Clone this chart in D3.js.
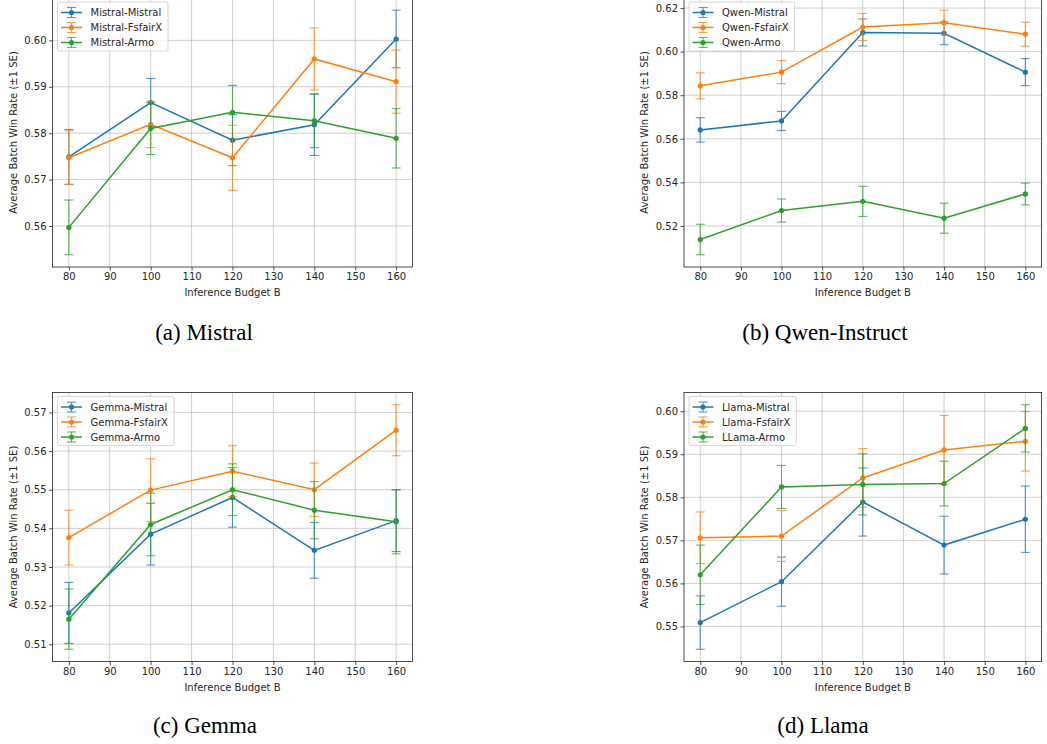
<!DOCTYPE html>
<html>
<head>
<meta charset="utf-8">
<script src="https://cdn.jsdelivr.net/npm/d3@7"></script>
<style>
  html, body { margin: 0; padding: 0; background: #fff; }
  svg text { font-family: "DejaVu Sans", sans-serif; }
  .caption { font-family: "Liberation Serif", "Times New Roman", serif !important; }
</style>
</head>
<body>
<svg id="fig" width="1047" height="744"></svg>
<script>
// --- data ---
var budgets = [80, 100, 120, 140, 160]
var xTicks = [80, 90, 100, 110, 120, 130, 140, 150, 160]
var colors = ["#1f77b4", "#ff7f0e", "#2ca02c"]

// (a) Mistral
var aNames = ["Mistral-Mistral", "Mistral-FsfairX", "Mistral-Armo"]
var aMistral = [0.5749, 0.5866, 0.5785, 0.5818, 0.6003]
var aMistralSE = [0.0059, 0.0052, 0.0055, 0.0066, 0.0062]
var aFsfair = [0.5747, 0.5819, 0.5747, 0.5960, 0.5911]
var aFsfairSE = [0.0058, 0.0050, 0.0070, 0.0067, 0.0068]
var aArmo = [0.5597, 0.5810, 0.5845, 0.5827, 0.5789]
var aArmoSE = [0.0059, 0.0056, 0.0058, 0.0058, 0.0064]
var aTicks = [0.56, 0.57, 0.58, 0.59, 0.60]

// (b) Qwen-Instruct
var bNames = ["Qwen-Mistral", "Qwen-FsfairX", "Qwen-Armo"]
var bMistral = [0.5641, 0.5682, 0.6088, 0.6084, 0.5906]
var bMistralSE = [0.0056, 0.0044, 0.0062, 0.0052, 0.0062]
var bFsfair = [0.5843, 0.5906, 0.6113, 0.6133, 0.6080]
var bFsfairSE = [0.0060, 0.0053, 0.0062, 0.0057, 0.0055]
var bArmo = [0.5138, 0.5271, 0.5313, 0.5236, 0.5347]
var bArmoSE = [0.0070, 0.0053, 0.0069, 0.0069, 0.0050]
var bTicks = [0.52, 0.54, 0.56, 0.58, 0.60, 0.62]

// (c) Gemma
var cNames = ["Gemma-Mistral", "Gemma-FsfairX", "Gemma-Armo"]
var cMistral = [0.5181, 0.5385, 0.5480, 0.5343, 0.5420]
var cMistralSE = [0.0079, 0.0080, 0.0077, 0.0072, 0.0080]
var cFsfair = [0.5376, 0.5499, 0.5548, 0.5500, 0.5654]
var cFsfairSE = [0.0071, 0.0081, 0.0066, 0.0069, 0.0066]
var cArmo = [0.5165, 0.5410, 0.5500, 0.5447, 0.5417]
var cArmoSE = [0.0078, 0.0081, 0.0067, 0.0074, 0.0083]
var cTicks = [0.51, 0.52, 0.53, 0.54, 0.55, 0.56, 0.57]

// (d) Llama
var dNames = ["Llama-Mistral", "Llama-FsfairX", "LLama-Armo"]
var dMistral = [0.5509, 0.5604, 0.5789, 0.5689, 0.5749]
var dMistralSE = [0.0062, 0.0057, 0.0079, 0.0067, 0.0077]
var dFsfair = [0.5706, 0.5710, 0.5845, 0.5910, 0.5930]
var dFsfairSE = [0.0060, 0.0059, 0.0068, 0.0080, 0.0069]
var dArmo = [0.5620, 0.5824, 0.5830, 0.5832, 0.5960]
var dArmoSE = [0.0069, 0.0050, 0.0071, 0.0052, 0.0055]
var dTicks = [0.55, 0.56, 0.57, 0.58, 0.59, 0.60]

var panels = [
  { names: aNames, means: [aMistral, aFsfair, aArmo], ses: [aMistralSE, aFsfairSE, aArmoSE], ticks: aTicks,
    caption: "(a) Mistral", left: 52.5, top: -2, w: 360, h: 269, capX: 204, capY: 339.5 },
  { names: bNames, means: [bMistral, bFsfair, bArmo], ses: [bMistralSE, bFsfairSE, bArmoSE], ticks: bTicks,
    caption: "(b) Qwen-Instruct", left: 684, top: -2, w: 357.6, h: 269, capX: 825, capY: 339.5 },
  { names: cNames, means: [cMistral, cFsfair, cArmo], ses: [cMistralSE, cFsfairSE, cArmoSE], ticks: cTicks,
    caption: "(c) Gemma", left: 52.5, top: 392.5, w: 360, h: 269, capX: 205, capY: 733.3 },
  { names: dNames, means: [dMistral, dFsfair, dArmo], ses: [dMistralSE, dFsfairSE, dArmoSE], ticks: dTicks,
    caption: "(d) Llama", left: 684, top: 392.5, w: 357.6, h: 269, capX: 823, capY: 733.3 }
]

var svg = d3.select("#fig")
svg.append("rect").attr("width", 1047).attr("height", 744).attr("fill", "#fff")

panels.forEach(function (p) {
  var g = svg.append("g").attr("transform", "translate(" + p.left + "," + p.top + ")")

  // y domain like matplotlib autoscale: data incl. error bars + 5% margin
  var lo = d3.min(p.means, function (m, s) { return d3.min(m, function (v, i) { return v - p.ses[s][i] }) })
  var hi = d3.max(p.means, function (m, s) { return d3.max(m, function (v, i) { return v + p.ses[s][i] }) })
  var pad = (hi - lo) * 0.05

  var x = d3.scaleLinear().domain([76, 164]).range([0, p.w])
  var y = d3.scaleLinear().domain([lo - pad, hi + pad]).range([p.h, 0])

  // grid
  g.append("g").selectAll("line").data(xTicks).enter().append("line")
      .attr("x1", function (d) { return x(d) }).attr("x2", function (d) { return x(d) })
      .attr("y1", 0).attr("y2", p.h)
      .attr("stroke", "#b0b0b0").attr("stroke-opacity", 0.75).attr("stroke-width", 0.8)
  g.append("g").selectAll("line").data(p.ticks).enter().append("line")
      .attr("y1", function (d) { return y(d) }).attr("y2", function (d) { return y(d) })
      .attr("x1", 0).attr("x2", p.w)
      .attr("stroke", "#b0b0b0").attr("stroke-opacity", 0.75).attr("stroke-width", 0.8)

  // axes
  var xAxis = g.append("g").attr("transform", "translate(0," + p.h + ")")
      .call(d3.axisBottom(x).tickValues(xTicks).tickSize(3.5).tickPadding(2.5).tickFormat(d3.format("d")))
  var yAxis = g.append("g")
      .call(d3.axisLeft(y).tickValues(p.ticks).tickSize(3.5).tickPadding(2.5).tickFormat(d3.format(".2f")))
  ;[xAxis, yAxis].forEach(function (a) {
    a.select(".domain").remove()
    a.selectAll(".tick line").attr("stroke", "#222").attr("stroke-width", 0.8)
    a.selectAll(".tick text").attr("fill", "#262626").style("font-size", "10px")
  })

  // series
  var line = d3.line().x(function (d) { return x(d[0]) }).y(function (d) { return y(d[1]) })
  p.means.forEach(function (m, s) {
    var c = colors[s]
    var pts = budgets.map(function (b, i) { return [b, m[i], p.ses[s][i]] })
    var sg = g.append("g")
    var eb = sg.append("g").attr("stroke", c).attr("stroke-opacity", 0.75).attr("stroke-width", 1.1)
    pts.forEach(function (d) {
      eb.append("line").attr("x1", x(d[0])).attr("x2", x(d[0]))
          .attr("y1", y(d[1] - d[2])).attr("y2", y(d[1] + d[2]))
      eb.append("line").attr("x1", x(d[0]) - 4.5).attr("x2", x(d[0]) + 4.5)
          .attr("y1", y(d[1] - d[2])).attr("y2", y(d[1] - d[2]))
      eb.append("line").attr("x1", x(d[0]) - 4.5).attr("x2", x(d[0]) + 4.5)
          .attr("y1", y(d[1] + d[2])).attr("y2", y(d[1] + d[2]))
    })
    sg.append("path").datum(pts).attr("d", line)
        .attr("fill", "none").attr("stroke", c).attr("stroke-width", 1.5)
    sg.selectAll("circle").data(pts).enter().append("circle")
        .attr("cx", function (d) { return x(d[0]) }).attr("cy", function (d) { return y(d[1]) })
        .attr("r", 2.6).attr("fill", c)
  })

  // frame
  g.append("rect").attr("width", p.w).attr("height", p.h)
      .attr("fill", "none").attr("stroke", "#222").attr("stroke-width", 0.8)

  // labels
  g.append("text").attr("x", p.w / 2).attr("y", p.h + 29)
      .attr("text-anchor", "middle").attr("fill", "#262626").style("font-size", "10px")
      .text("Inference Budget B")
  g.append("text").attr("transform", "translate(-36," + (p.h / 2) + ") rotate(-90)")
      .attr("text-anchor", "middle").attr("fill", "#262626").style("font-size", "10px")
      .text("Average Batch Win Rate (\u00b11 SE)")

  // legend
  var lg = g.append("g").attr("transform", "translate(5,6)")
  var box = lg.append("rect").attr("rx", 2).attr("ry", 2)
      .attr("fill", "#fff").attr("fill-opacity", 0.8).attr("stroke", "#cccccc").attr("stroke-width", 0.8)
  var maxW = 0
  p.names.forEach(function (n, s) {
    var cy = 8.5 + s * 15
    var c = colors[s]
    var it = lg.append("g")
    it.append("line").attr("x1", 3.5).attr("x2", 24.5).attr("y1", cy).attr("y2", cy)
        .attr("stroke", c).attr("stroke-width", 1.5)
    it.append("line").attr("x1", 14).attr("x2", 14).attr("y1", cy - 5).attr("y2", cy + 5)
        .attr("stroke", c).attr("stroke-opacity", 0.75).attr("stroke-width", 1.1)
    it.append("line").attr("x1", 9.5).attr("x2", 18.5).attr("y1", cy - 5).attr("y2", cy - 5)
        .attr("stroke", c).attr("stroke-opacity", 0.75).attr("stroke-width", 1.1)
    it.append("line").attr("x1", 9.5).attr("x2", 18.5).attr("y1", cy + 5).attr("y2", cy + 5)
        .attr("stroke", c).attr("stroke-opacity", 0.75).attr("stroke-width", 1.1)
    it.append("circle").attr("cx", 14).attr("cy", cy).attr("r", 2.6).attr("fill", c)
    var t = it.append("text").attr("x", 33).attr("y", cy + 3.6)
        .attr("fill", "#262626").style("font-size", "10px").text(n)
    maxW = Math.max(maxW, t.node().getComputedTextLength())
  })
  box.attr("x", 0).attr("y", -2).attr("width", 33 + maxW + 6).attr("height", 49)

  // caption
  svg.append("text").attr("class", "caption").attr("x", p.capX).attr("y", p.capY)
      .attr("text-anchor", "middle").attr("fill", "#000").style("font-size", "23px")
      .text(p.caption)
})
</script>
</body>
</html>
